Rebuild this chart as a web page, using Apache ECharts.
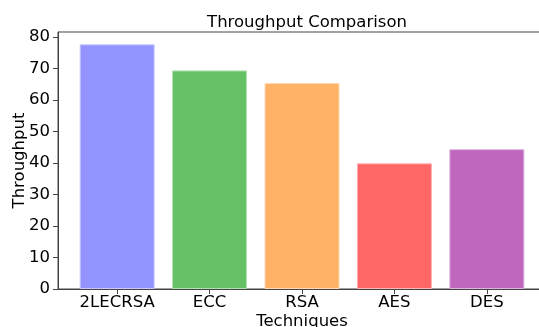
<!DOCTYPE html>
<html>
<head>
<meta charset="utf-8">
<script src="https://cdn.jsdelivr.net/npm/echarts@6/dist/echarts.min.js"></script>
<style>
  html, body { margin: 0; padding: 0; background: #fff; }
  #chart { width: 539px; height: 327px; }
</style>
</head>
<body>
<div id="chart"></div>
<script>
const techniques = ['2LECRSA', 'ECC', 'RSA', 'AES', 'DES'];
const throughput = [77.7, 69.4, 65.4, 39.9, 44.4];
const barColors = ['#9393FF', '#66C066', '#FFB266', '#FF6666', '#BF66BF'];
const edgeColors = ['#C9C9FF', '#B3E0B3', '#FFD9B3', '#FFB3B3', '#DFB3DF'];
const yTicks = [0, 10, 20, 30, 40, 50, 60, 70, 80];

const font = 'DejaVu Sans';
const chart = echarts.init(document.getElementById('chart'));

const option = {
  animation: false,
  title: {
    text: 'Throughput Comparison',
    left: 302,
    textAlign: 'center',
    top: 9,
    textStyle: { fontFamily: font, fontSize: 16.5, fontWeight: 'normal', color: '#000' },
  },
  grid: {
    left: 58,
    top: 32,
    width: 488,
    bottom: 38,
    outerBoundsMode: 'none',
    containLabel: false,
    show: true,
    borderColor: '#444',
    borderWidth: 1,
  },
  xAxis: {
    type: 'value',
    min: -0.64,
    max: 4.64,
    splitLine: { show: false },
    axisLine: { show: true, onZero: false, lineStyle: { color: '#444' } },
    axisTick: {
      show: true,
      length: 5,
      customValues: techniques.map((t, i) => i),
      lineStyle: { color: '#444' },
    },
    axisLabel: {
      customValues: techniques.map((t, i) => i),
      formatter: (v) => techniques[Math.round(v)],
      fontFamily: font,
      fontSize: 16.5,
      color: '#000',
      margin: 5,
    },
    name: 'Techniques',
    nameLocation: 'middle',
    nameGap: 24,
    nameMoveOverlap: false,
    nameTextStyle: { fontFamily: font, fontSize: 16.5, color: '#000' },
  },
  yAxis: {
    type: 'value',
    min: 0,
    max: 81.6,
    interval: 10,
    splitLine: { show: false },
    axisLine: { show: true, onZero: false, lineStyle: { color: '#444' } },
    axisTick: { show: true, length: 5, lineStyle: { color: '#444' } },
    axisLabel: {
      fontFamily: font,
      fontSize: 16.5,
      color: '#000',
      margin: 8,
      showMaxLabel: false,
      formatter: (v) => (yTicks.indexOf(v) >= 0 ? String(v) : ''),
    },
    name: 'Throughput',
    nameLocation: 'middle',
    nameGap: 30,
    nameMoveOverlap: false,
    nameTextStyle: { fontFamily: font, fontSize: 16.5, color: '#000' },
  },
  series: [
    {
      type: 'bar',
      silent: true,
      barWidth: 75,
      data: throughput.map((v, i) => ({
        value: [i, v],
        itemStyle: { color: barColors[i], borderColor: edgeColors[i], borderWidth: 1 },
      })),
    },
  ],
};

chart.setOption(option);
</script>
</body>
</html>
